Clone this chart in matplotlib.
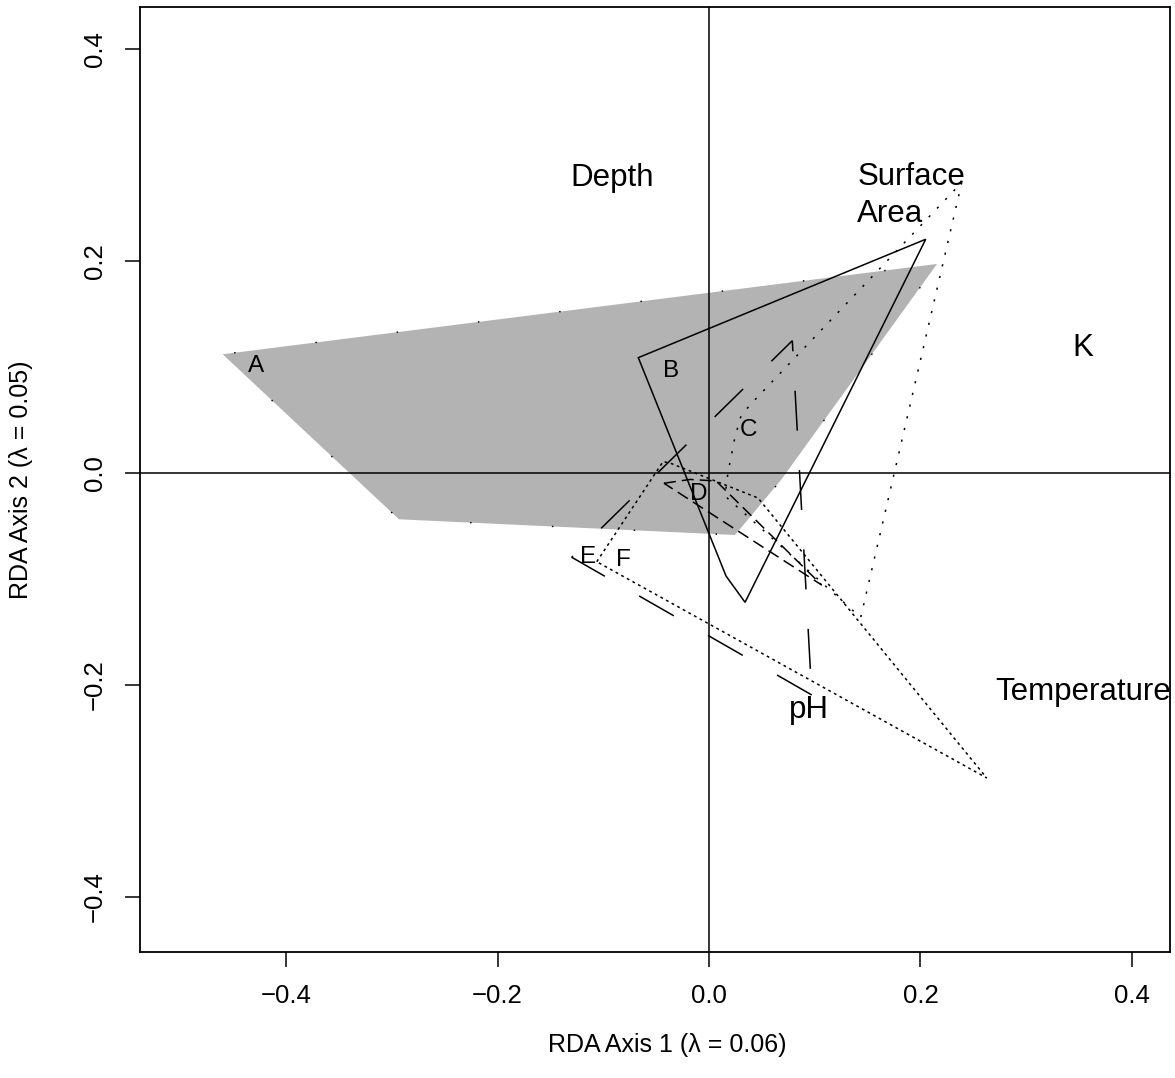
import matplotlib
matplotlib.use("Agg")
import matplotlib.pyplot as plt
from matplotlib.patches import Polygon

plt.rcParams['font.family'] = ['Liberation Sans', 'DejaVu Sans']
plt.rcParams['lines.scale_dashes'] = False

# ---- data (RDA site-group hulls) ----
hull_A_x = [-0.4601, -0.2933, 0.0246, 0.0681, 0.2157]
hull_A_y = [0.1120, -0.0437, -0.0585, -0.0066, 0.1972]

hull_B_x = [-0.0669, 0.2050, 0.0341, 0.0161]
hull_B_y = [0.1088, 0.2205, -0.1220, -0.0972]

hull_C_x = [0.2391, 0.1435, 0.0151, 0.0180, 0.0246, 0.0303, 0.0388]
hull_C_y = [0.2741, -0.1363, -0.0217, 0.0009, 0.0340, 0.0538, 0.0642]

hull_D_x = [-0.0426, -0.0180, 0.0066, 0.1066]
hull_D_y = [-0.0097, -0.0061, -0.0075, -0.1057]

hull_E_x = [0.0972, -0.1299, 0.0788]
hull_E_y = [-0.2094, -0.0795, 0.1248]

hull_F_x = [-0.1062, -0.0435, -0.0369, 0.0464, 0.2627]
hull_F_y = [-0.0837, 0.0107, 0.0094, -0.0236, -0.2877]

group_labels = ['A', 'B', 'C', 'D', 'E', 'F']
group_lab_x = [-0.4286, -0.0357, 0.0376, -0.0096, -0.1147, -0.0814]
group_lab_y = [0.0956, 0.0903, 0.0349, -0.0255, -0.0852, -0.0877]

env_labels = ['Depth', 'Surface\nArea', 'K', 'Temperature', 'pH']
env_x = [-0.0918, 0.1403, 0.3538, 0.3538, 0.0941]
env_y = [0.2703, 0.2368, 0.1099, -0.2137, -0.2314]
env_ha = ['center', 'left', 'center', 'center', 'center']

tick_vals = [-0.4, -0.2, 0.0, 0.2, 0.4]
tick_text = ['\u22120.4', '\u22120.2', '0.0', '0.2', '0.4']

xlabel = 'RDA Axis 1 (\u03bb = 0.06)'
ylabel = 'RDA Axis 2 (\u03bb = 0.05)'

PT = 0.72  # points per pixel at dpi 100

fig = plt.figure(figsize=(11.75, 10.78), dpi=100)
W, H = 1175, 1078
ax = fig.add_axes([140 / W, (H - 952) / H, 1030 / W, 945 / H])
ax.set_xlim(-0.5383, 0.4361)
ax.set_ylim(-0.4519, 0.4396)

# hull A: grey fill with sparse dotted outline
ax.add_patch(Polygon(list(zip(hull_A_x, hull_A_y)), closed=True,
                     facecolor='#b3b3b3', edgecolor='none', zorder=1))
ax.add_patch(Polygon(list(zip(hull_A_x, hull_A_y)), closed=True, fill=False,
                     edgecolor='black', linewidth=1.0,
                     linestyle=(14.9 * PT, (1.5 * PT, 80.4 * PT)), zorder=2))

styles = {
    'B': '-',
    'C': (0, (2.2 * PT, 9.8 * PT)),
    'D': (0, (12 * PT, 6 * PT)),
    'E': (0, (40 * PT, 39.5 * PT)),
    'F': (0, (2.8 * PT, 3.6 * PT)),
}
hulls = {
    'B': (hull_B_x, hull_B_y),
    'C': (hull_C_x, hull_C_y),
    'D': (hull_D_x, hull_D_y),
    'E': (hull_E_x, hull_E_y),
    'F': (hull_F_x, hull_F_y),
}
for k, (hx, hy) in hulls.items():
    ax.add_patch(Polygon(list(zip(hx, hy)), closed=True, fill=False,
                         edgecolor='black', linewidth=1.1,
                         linestyle=styles[k], zorder=3))

ax.axhline(0, color='black', linewidth=1.1, zorder=4)
ax.axvline(0, color='black', linewidth=1.1, zorder=4)

for lab, x, y in zip(group_labels, group_lab_x, group_lab_y):
    ax.text(x, y, lab, ha='center', va='baseline', fontsize=17.5, zorder=5)

for lab, x, y, ha in zip(env_labels, env_x, env_y, env_ha):
    ax.text(x, y, lab, ha=ha, va='baseline', fontsize=22.5, zorder=5,
            linespacing=1.31, clip_on=False)

ax.set_xticks(tick_vals)
ax.set_xticklabels(tick_text)
ax.set_yticks(tick_vals)
ax.set_yticklabels(tick_text, rotation=90, va='center')
ax.tick_params(axis='both', direction='out', length=15 * PT, width=1.1,
               labelsize=18.5)
ax.tick_params(axis='x', pad=17 * PT)
ax.tick_params(axis='y', pad=18 * PT)
for s in ax.spines.values():
    s.set_linewidth(1.3)

fig.text(667 / W, 1 - 1045 / H, xlabel, ha='center', va='center', fontsize=18)
fig.text(21 / W, 1 - 479.5 / H, ylabel, ha='center', va='center',
         rotation=90, fontsize=18)

fig.savefig('out.png', dpi=100)
